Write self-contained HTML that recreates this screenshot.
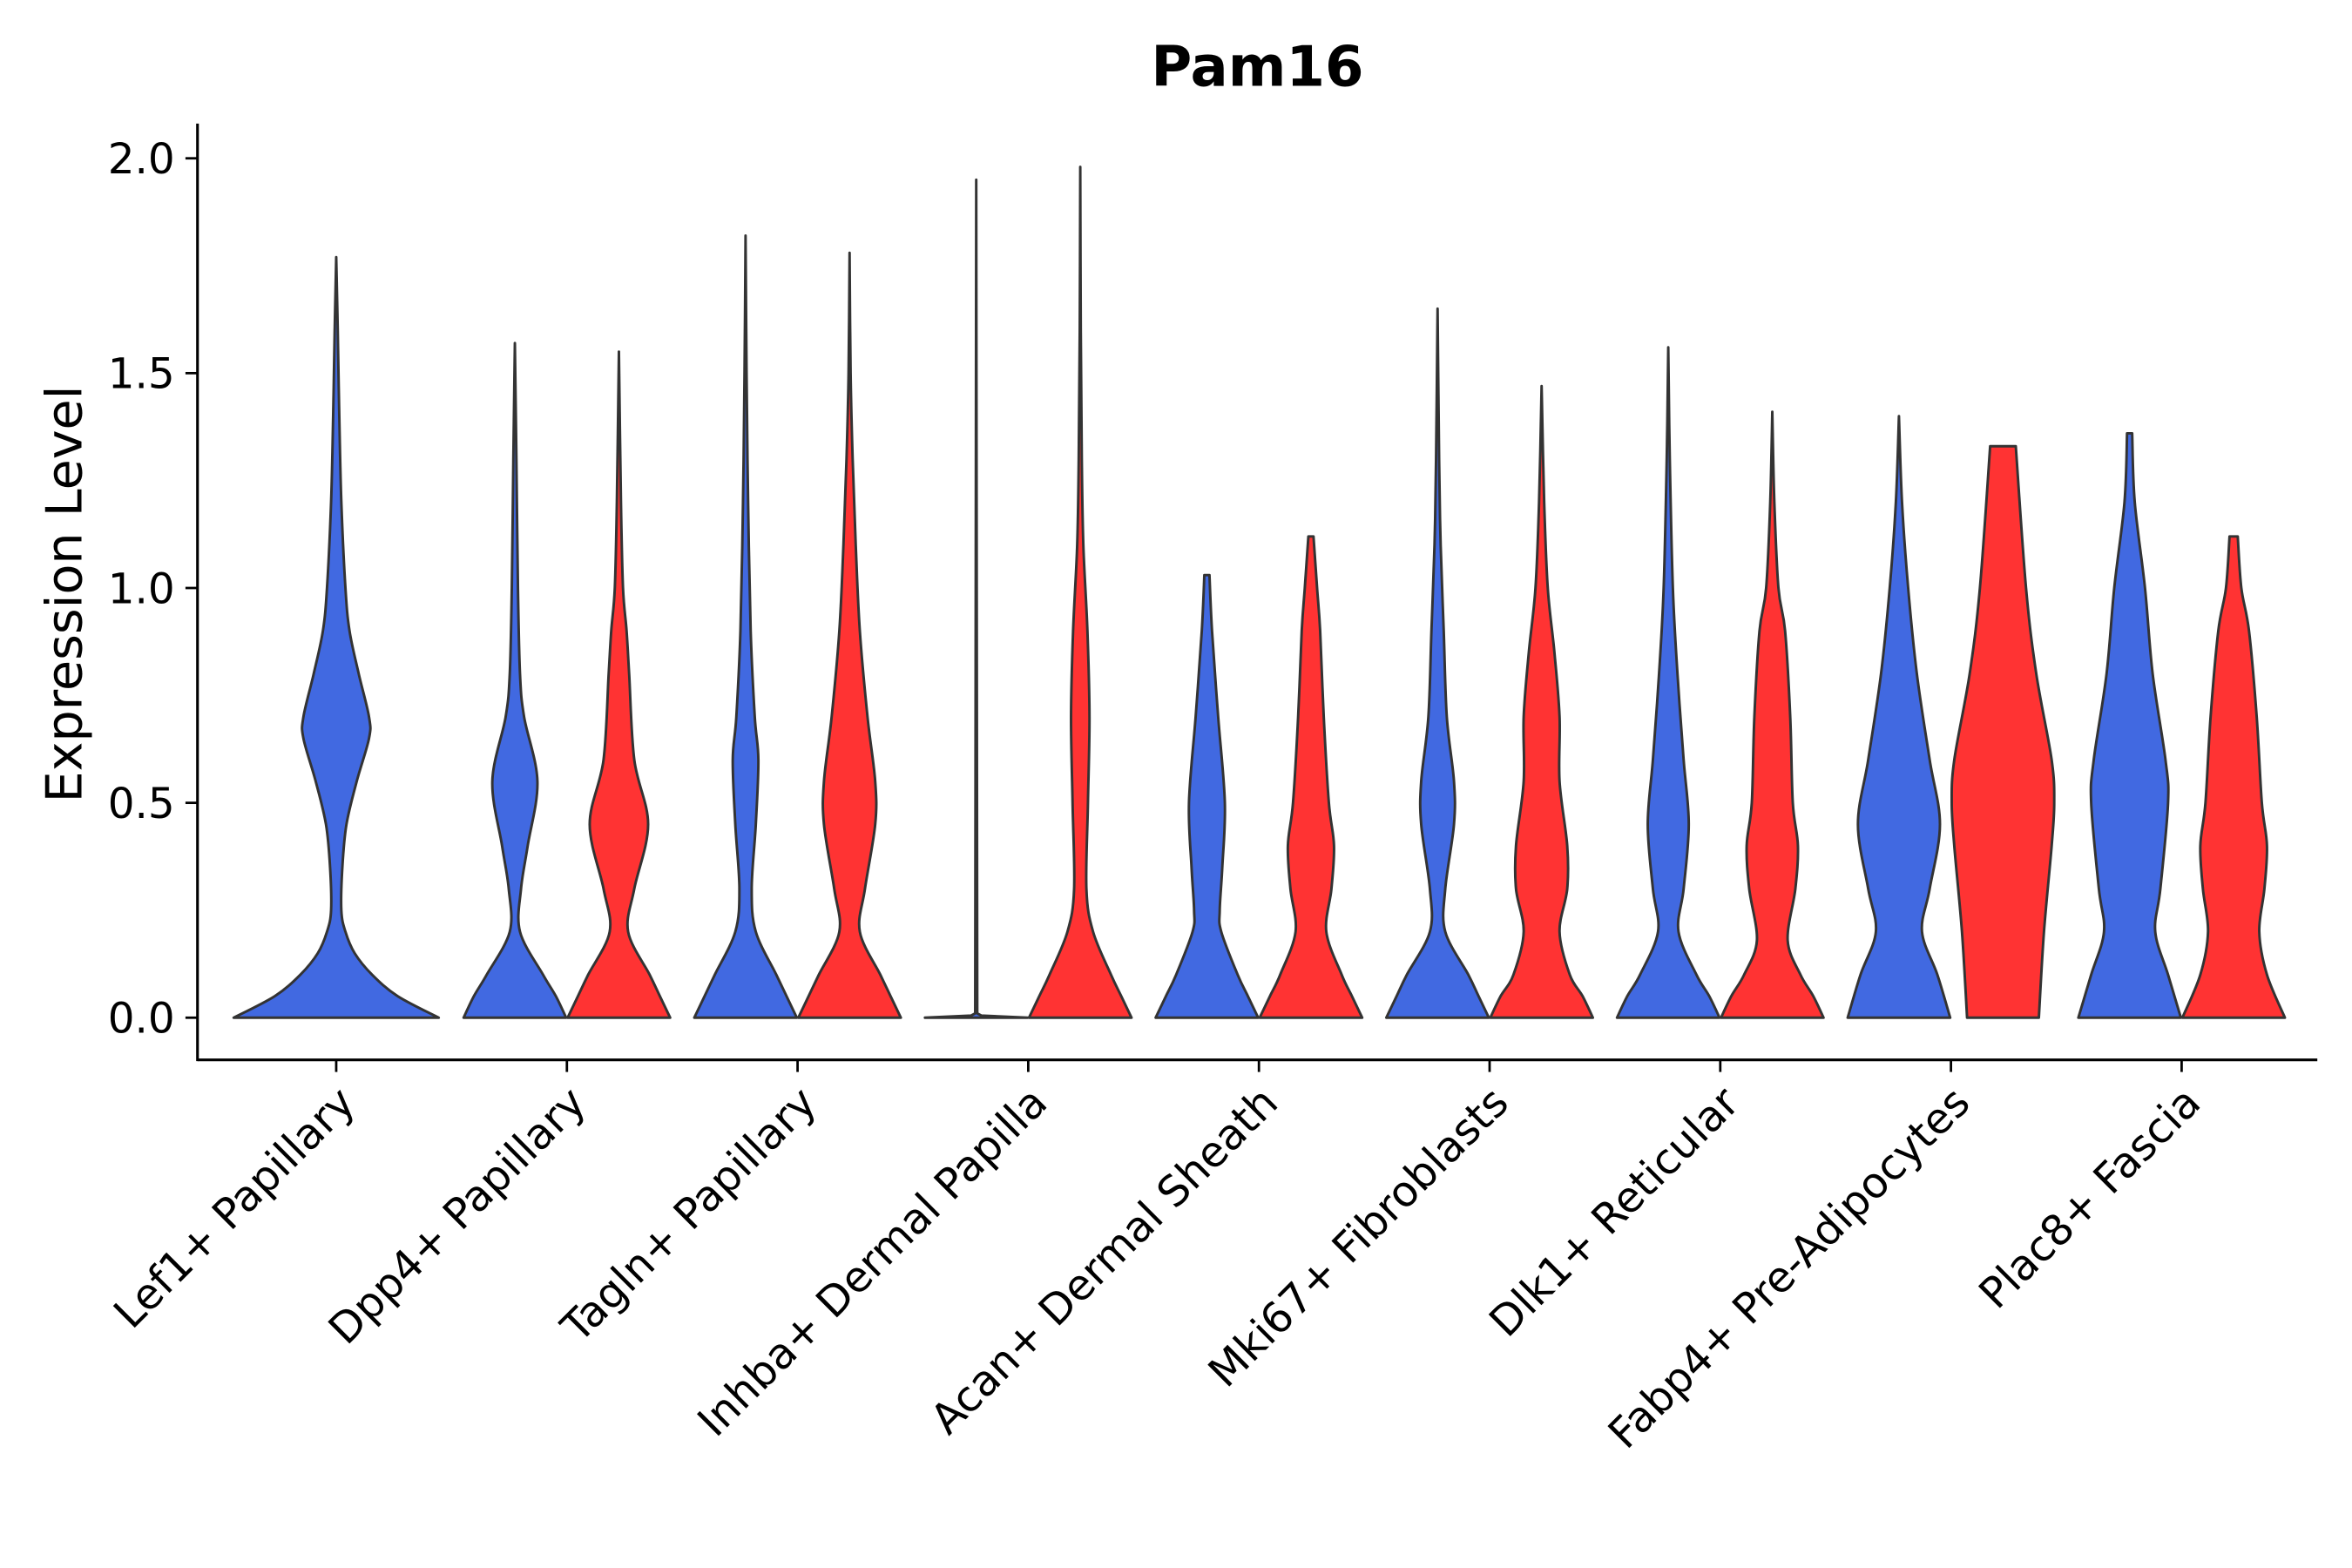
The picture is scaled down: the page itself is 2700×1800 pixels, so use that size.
<!DOCTYPE html>
<html><head><meta charset="utf-8"><style>
html,body{margin:0;padding:0;background:#fff}
svg{display:block}
text{font-family:"DejaVu Sans","Liberation Sans",sans-serif}
</style></head><body>
<svg id="chart" width="2700" height="1800" viewBox="0 0 1560 1040" xmlns="http://www.w3.org/2000/svg">
<text x="834" y="57" text-anchor="middle" font-size="37" font-weight="bold">Pam16</text>
<text transform="translate(54,394) rotate(-90)" text-anchor="middle" font-size="33">Expression Level</text>
<g id="plot"></g>
</svg>
<script>
const categories = ["Lef1+ Papillary","Dpp4+ Papillary","Tagln+ Papillary","Inhba+ Dermal Papilla","Acan+ Dermal Sheath","Mki67+ Fibroblasts","Dlk1+ Reticular","Fabp4+ Pre-Adipocytes","Plac8+ Fascia"];
const yTicks = [0, 0.5, 1.0, 1.5, 2.0];
const yTickLabels = ["0.0","0.5","1.0","1.5","2.0"];
// violin profiles: [expression, relative width]; null = group absent
const blueProfiles = [
 [[0,1],[0.05,0.6],[0.1,0.35],[0.15,0.18],[0.2,0.09],[0.25,0.05],[0.35,0.06],[0.45,0.1],[0.55,0.2],[0.65,0.32],[0.7,0.32],[0.8,0.22],[0.9,0.13],[1.0,0.09],[1.2,0.05],[1.4,0.03],[1.6,0.015],[1.77,0]],
 [[0,1],[0.05,0.8],[0.1,0.55],[0.2,0.1],[0.3,0.12],[0.4,0.25],[0.55,0.44],[0.7,0.18],[0.8,0.1],[1.0,0.06],[1.3,0.03],[1.57,0]],
 [[0,1],[0.05,0.8],[0.1,0.6],[0.2,0.2],[0.3,0.12],[0.45,0.2],[0.6,0.25],[0.7,0.18],[0.9,0.1],[1.2,0.05],[1.5,0.02],[1.82,0]],
 [[0,1],[0.005,0.1],[0.01,0.02],[1.95,0]],
 [[0,1],[0.05,0.8],[0.1,0.6],[0.2,0.28],[0.25,0.25],[0.35,0.3],[0.5,0.35],[0.7,0.22],[0.9,0.1],[1.03,0.05]],
 [[0,1],[0.05,0.8],[0.1,0.6],[0.2,0.15],[0.3,0.15],[0.45,0.32],[0.55,0.32],[0.7,0.18],[0.9,0.12],[1.1,0.06],[1.3,0.03],[1.65,0]],
 [[0,1],[0.05,0.8],[0.1,0.55],[0.2,0.2],[0.3,0.3],[0.45,0.4],[0.6,0.3],[0.8,0.18],[1.0,0.09],[1.3,0.03],[1.56,0]],
 [[0,1],[0.1,0.75],[0.2,0.45],[0.3,0.6],[0.45,0.8],[0.6,0.6],[0.8,0.35],[1.0,0.18],[1.2,0.06],[1.4,0]],
 [[0,1],[0.1,0.75],[0.2,0.5],[0.3,0.6],[0.5,0.75],[0.6,0.7],[0.8,0.45],[1.0,0.3],[1.2,0.1],[1.36,0.05]]
];
const redProfiles = [
 null,
 [[0,1],[0.05,0.8],[0.1,0.6],[0.2,0.18],[0.3,0.3],[0.45,0.57],[0.6,0.3],[0.8,0.2],[0.9,0.15],[1.0,0.08],[1.2,0.04],[1.55,0]],
 [[0,1],[0.05,0.8],[0.1,0.6],[0.2,0.2],[0.3,0.3],[0.45,0.5],[0.55,0.5],[0.7,0.35],[0.9,0.2],[1.1,0.12],[1.3,0.06],[1.5,0.02],[1.78,0]],
 [[0,1],[0.05,0.8],[0.1,0.6],[0.2,0.25],[0.3,0.12],[0.5,0.15],[0.7,0.18],[0.9,0.14],[1.1,0.06],[1.3,0.03],[1.6,0.01],[1.98,0]],
 [[0,1],[0.05,0.8],[0.1,0.6],[0.2,0.3],[0.3,0.4],[0.4,0.45],[0.5,0.35],[0.7,0.25],[0.9,0.18],[1.0,0.12],[1.12,0.05]],
 [[0,1],[0.05,0.8],[0.1,0.55],[0.2,0.35],[0.3,0.5],[0.4,0.5],[0.55,0.35],[0.7,0.35],[0.85,0.25],[1.0,0.12],[1.2,0.05],[1.47,0]],
 [[0,1],[0.05,0.8],[0.1,0.55],[0.18,0.3],[0.3,0.45],[0.4,0.5],[0.5,0.4],[0.7,0.35],[0.9,0.25],[1.0,0.12],[1.2,0.04],[1.41,0]],
 [[0,0.7],[0.2,0.8],[0.4,0.95],[0.5,1.0],[0.6,0.95],[0.8,0.65],[1.0,0.45],[1.33,0.25]],
 [[0,1],[0.1,0.65],[0.2,0.5],[0.3,0.6],[0.4,0.65],[0.5,0.55],[0.7,0.45],[0.9,0.3],[1.0,0.15],[1.12,0.08]]
];

const X0 = 131, X1 = 1537, Y0 = 82, YB = 703;
function yScale(v){ return 675 - v*285; }
function xScale(i){ return 223 + i*153; }
const NS = "http://www.w3.org/2000/svg";
const plot = document.getElementById("plot");
function mk(tag, attrs){ const e = document.createElementNS(NS, tag); for (const k in attrs) e.setAttribute(k, attrs[k]); plot.appendChild(e); return e; }

function smooth(pts){
  if (pts.length < 6) return pts.slice(1).map(p => "L" + p[0].toFixed(2) + "," + p[1].toFixed(2)).join("");
  let d = "";
  for (let i = 0; i < pts.length - 1; i++){
    const p0 = pts[Math.max(0, i-1)], p1 = pts[i], p2 = pts[i+1], p3 = pts[Math.min(pts.length-1, i+2)];
    const c1 = [p1[0] + (p2[0]-p0[0])/6, p1[1] + (p2[1]-p0[1])/6];
    const c2 = [p2[0] - (p3[0]-p1[0])/6, p2[1] - (p3[1]-p1[1])/6];
    d += "C" + c1[0].toFixed(2)+","+c1[1].toFixed(2)+" "+c2[0].toFixed(2)+","+c2[1].toFixed(2)+" "+p2[0].toFixed(2)+","+p2[1].toFixed(2);
  }
  return d;
}

function violin(prof, cx, hw, fill, name){
  const right = prof.map(p => [cx + p[1]*hw, yScale(p[0])]);
  const left = prof.slice().reverse().map(p => [cx - p[1]*hw, yScale(p[0])]);
  const d = "M" + right[0][0].toFixed(2) + "," + right[0][1].toFixed(2) + smooth(right) +
            "L" + left[0][0].toFixed(2) + "," + left[0][1].toFixed(2) + smooth(left) + "Z";
  const el = mk("path", {d: d, fill: fill, stroke: "#333", "stroke-width": 1.7, "stroke-linejoin": "round"});
  
  
}

categories.forEach((c, i) => {
  const cx = xScale(i);
  const slug = c.toLowerCase().replace(/[^a-z0-9]+/g, "-").replace(/-+$/,"");
  if (redProfiles[i] === null) {
    violin(blueProfiles[i], cx, 68, "#4169E1", "violin-" + slug + "-blue");
  } else {
    violin(blueProfiles[i], cx - 34.5, 34, "#4169E1", "violin-" + slug + "-blue");
    violin(redProfiles[i], cx + 34.5, 34, "#FF3333", "violin-" + slug + "-red");
  }
  const t = mk("line", {x1: cx, x2: cx, y1: YB, y2: YB + 8, stroke: "#000", "stroke-width": 1.6});
  
  
  const lx = cx + 14, ly = 733;
  const lab = mk("text", {x: lx, y: ly, "text-anchor": "end", "font-size": 28, transform: "rotate(-45 " + lx + " " + ly + ")"});
  lab.textContent = c;
  
  
});

yTicks.forEach((v, i) => {
  const y = yScale(v);
  const t = mk("line", {x1: X0 - 8, x2: X0, y1: y, y2: y, stroke: "#000", "stroke-width": 1.6});
  
  
  const lab = mk("text", {x: X0 - 15, y: y + 10, "text-anchor": "end", "font-size": 28});
  lab.textContent = yTickLabels[i];
  
  
});

const ya = mk("line", {x1: X0, x2: X0, y1: Y0, y2: YB + 0.8, stroke: "#000", "stroke-width": 1.8});


const xa = mk("line", {x1: X0, x2: X1, y1: YB, y2: YB, stroke: "#000", "stroke-width": 1.8});


</script>
</body></html>
